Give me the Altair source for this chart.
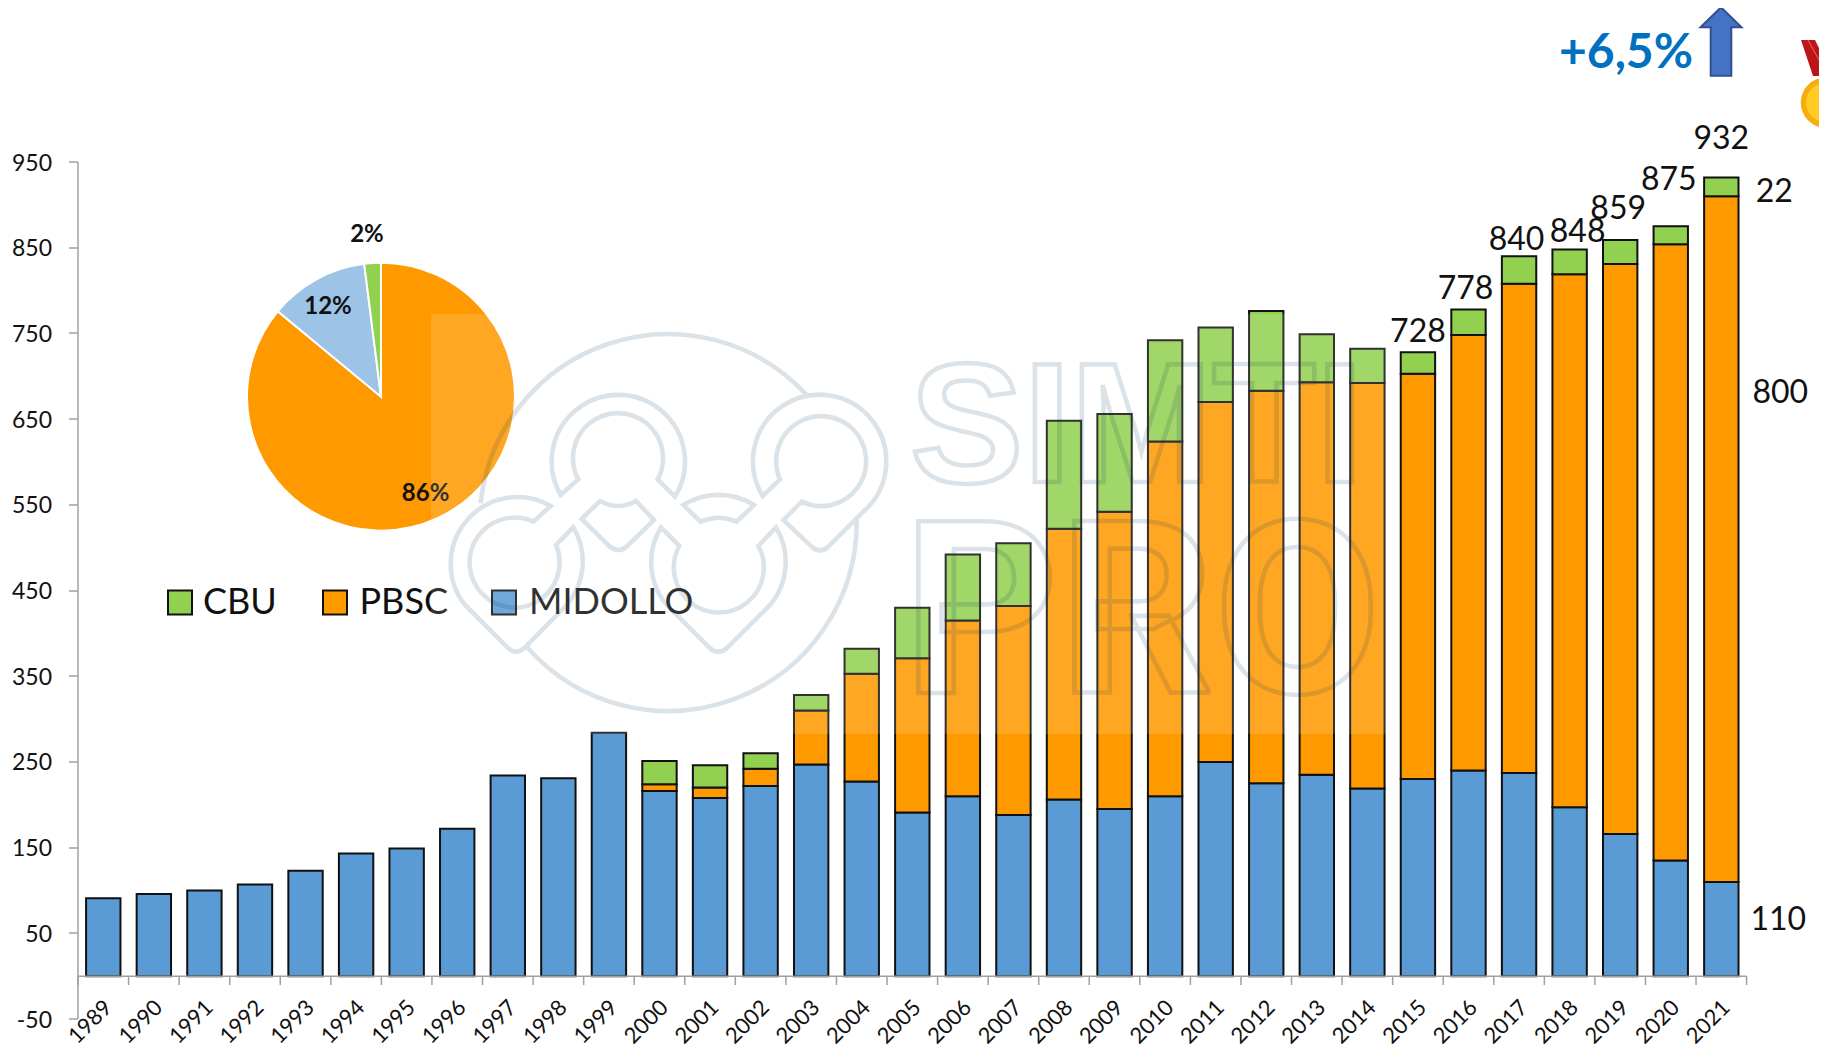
import altair as alt
import pandas as pd

YEARS = [str(y) for y in range(1989, 2022)]
MIDOLLO = [91, 96, 100, 107, 123, 143, 149, 172, 234, 231, 284, 216, 208, 222, 247, 227, 191, 210, 188, 206, 195, 210,
           250, 225, 235, 219, 230, 240, 237, 197, 166, 135, 110]
PBSC = [0] * 11 + [8, 12, 20, 63, 126, 180, 205, 244, 316, 347, 414, 420, 458, 458, 473, 473, 508, 571, 622, 665, 719, 800]
CBU = [0] * 11 + [27, 26, 18, 18, 29, 59, 77, 73, 126, 114, 118, 87, 93, 56, 40, 25, 30, 32, 29, 28, 21, 22]
SERIES = ["CBU", "PBSC", "MIDOLLO"]
SERIES_COLORS = ["#92D050", "#FF9900", "#5B9BD5"]
Y_TICKS = [-50, 50, 150, 250, 350, 450, 550, 650, 750, 850, 950]

PIE_LABELS = ["86%", "12%", "2%"]
PIE_VALUES = [86, 12, 2]
PIE_COLORS = ["#FF9900", "#9DC3E6", "#92D050"]

TOTAL_YEARS = ["2015", "2016", "2017", "2018", "2019", "2020", "2021"]
GROWTH = "+6,5%"

FONT = "Lato"
AXIS_GREY = "#a0a0a0"
X0, Y0 = 78, 162            # page position of the plot area
W, H = 1668.6, 857
ZERO_Y = 976 - Y0           # plot-relative position of the zero line, where the ticks start
GAP = W / len(YEARS) * 0.16  # half the space between two bars

rows = []
for i, year in enumerate(YEARS):
    for rank, (name, vals) in enumerate([("MIDOLLO", MIDOLLO), ("PBSC", PBSC), ("CBU", CBU)]):
        if vals[i] > 0:
            rows.append({"year": year, "series": name, "value": vals[i], "rank": rank})
bars_df = pd.DataFrame(rows)
total_of = {y: MIDOLLO[i] + PBSC[i] + CBU[i] for i, y in enumerate(YEARS)}

x_scale = alt.Scale(domain=YEARS, paddingInner=0.32, paddingOuter=0.16, round=False)
y_scale = alt.Scale(domain=[-50, 950], nice=False, zero=False)


def x_year(**kw):
    return alt.X("year:N", scale=x_scale, axis=None, **kw)


def blank():
    return alt.Chart(pd.DataFrame({"a": [0]}))


def px(x, y):
    return {"x": alt.value(x - X0), "y": alt.value(y - Y0)}


# Zero line, band-edge ticks and slanted year labels
years_df = pd.DataFrame({"year": YEARS})
band_ticks = alt.Chart(years_df).mark_rule(color=AXIS_GREY, strokeWidth=1.5, xOffset=-GAP).encode(
    x=x_year(bandPosition=0), y=alt.value(ZERO_Y), y2=alt.value(ZERO_Y + 9))
end_tick = alt.Chart(years_df.tail(1)).mark_rule(color=AXIS_GREY, strokeWidth=1.5, xOffset=GAP).encode(
    x=x_year(bandPosition=1), y=alt.value(ZERO_Y), y2=alt.value(ZERO_Y + 9))
zero_line = blank().mark_rule(color=AXIS_GREY, strokeWidth=1.5).encode(
    x=alt.value(0), x2=alt.value(W), y=alt.Y(datum=0, scale=y_scale, title=None))
year_labels = alt.Chart(years_df).mark_text(
    font=FONT, fontSize=22, color="#111111", angle=315, align="right", baseline="middle", xOffset=5).encode(
    x=x_year(), y=alt.value(1004 - Y0), text=alt.Text("year:N"))

bars = alt.Chart(bars_df).mark_bar(stroke="#111111", strokeWidth=2).encode(
    x=x_year(),
    y=alt.Y("value:Q", stack="zero", scale=y_scale, axis=alt.Axis(
        title=None, values=Y_TICKS, grid=False, tickSize=9, labelFont=FONT, labelFontSize=23, labelColor="#111111",
        labelPadding=17, labelOffset=1.5, domainColor=AXIS_GREY, tickColor=AXIS_GREY, domainWidth=1.5, tickWidth=1.5,
        labelExpr="replace(datum.label, '−', '-')")),
    color=alt.Color("series:N", scale=alt.Scale(domain=SERIES, range=SERIES_COLORS), legend=None),
    order=alt.Order("rank:Q"),
)

# Legend: swatches and names
legend_items = []
for name, col, sx, tx in zip(SERIES, SERIES_COLORS, [180, 335, 504], [203, 359.5, 529]):
    legend_items.append(blank().mark_square(size=576, fill=col, stroke="#111111", strokeWidth=2, opacity=1).encode(**px(sx, 602.5)))
    legend_items.append(blank().mark_text(text=name, font=FONT, fontSize=36, color="#111111", align="left").encode(**px(tx, 603)))

starts, ends, run = [], [], 0
for v in PIE_VALUES:
    starts.append(run)
    run += v
    ends.append(run)
pie_df = pd.DataFrame({"label": PIE_LABELS, "start": starts, "end": ends})
pie = [
    alt.Chart(pie_df.iloc[[i]]).mark_arc(radius=134, innerRadius=0, stroke="white", strokeWidth=2, fill=PIE_COLORS[i],
                                         opacity=1).encode(
        theta=alt.Theta("start:Q", scale=alt.Scale(domain=[0, 100], range=[0, 6.283185])),
        theta2="end:Q",
        **px(381, 396.7),
    )
    for i in range(3)
]
pie_text = [
    blank().mark_text(text=t, font=FONT, fontSize=24, fontWeight="bold", color="#111111").encode(**px(x, y))
    for t, (x, y) in zip(PIE_LABELS, [(425.6, 493.5), (328, 307), (367, 235)])
]

# Value labels above / beside the last bars
label_df = pd.DataFrame({
    "year": TOTAL_YEARS,
    "total": [total_of[y] for y in TOTAL_YEARS],
    "pos": [0, 1, 2, 3, 4, 5, 6],
})
OFFSETS = [(0, -20), (-3, -20), (-2.5, -16), (8, -17), (-2, -31), (-2, -46), (0, -38)]
total_labels = [
    alt.Chart(label_df[label_df.pos == i]).mark_text(font=FONT, fontSize=32, color="#111111", dx=dx, dy=dy).encode(
        x=x_year(), y=alt.Y("total:Q", scale=y_scale, title=None),
        text=alt.Text("total:Q"))
    for i, (dx, dy) in enumerate(OFFSETS)
]
last = pd.DataFrame({
    "year": ["2021"] * 3,
    "value": [CBU[-1], PBSC[-1], MIDOLLO[-1]],
    "mid": [MIDOLLO[-1] + PBSC[-1] + CBU[-1] / 2, MIDOLLO[-1] + PBSC[-1] / 2, MIDOLLO[-1] / 2],
    "pos": [0, 1, 2],
})
LAST_OFFSETS = [(53, 5), (59, -146), (57, -9)]
last_labels = [
    alt.Chart(last[last.pos == i]).mark_text(font=FONT, fontSize=32, color="#111111", dx=dx, dy=dy).encode(
        x=x_year(), y=alt.Y("mid:Q", scale=y_scale, title=None),
        text=alt.Text("value:Q"))
    for i, (dx, dy) in enumerate(LAST_OFFSETS)
]

# Watermark: translucent panel, logo outline, outlined lettering
panel = blank().mark_rect(fill="white", opacity=0.137).encode(
    x=alt.value(431 - X0), x2=alt.value(1390 - X0), y=alt.value(314 - Y0), y2=alt.value(734 - Y0))

LOGO = (
    "M152,550A565,565 0 0 1 1130,225 M1280,600A565,565 0 0 1 290,980 "
    "M392,525A200,200 0 1 1 735,530L683,478A135,135 0 1 0 445,478Z "
    "M998,528A200,200 0 1 1 1300,575L1195,680Q1170,702 1145,680L1060,600L1115,545A135,135 0 1 0 1050,478Z "
    "M362,558A200,200 0 0 0 105,855L235,985Q258,1005 282,985L410,855A200,200 0 0 0 430,622L378,675"
    "A135,135 0 1 1 310,605Z "
    "M693,622L748,678A135,135 0 1 0 985,678L1038,622A200,200 0 0 1 1000,875L890,985Q865,1005 840,985L730,875"
    "A200,200 0 0 1 693,622Z "
    "M455,597L510,543Q565,573 618,543L672,600L590,680Q565,700 540,680Z "
    "M760,555A200,200 0 0 1 972,555L920,605A135,135 0 0 0 812,605Z"
)
WM = dict(stroke="#05395d", strokeOpacity=0.14, strokeWidth=4.6)
logo = blank().mark_point(shape=LOGO, size=4 / 9, fill="transparent", fillOpacity=0, **WM).encode(**px(430, 320))
simti = blank().mark_text(text="SIMTI", font="Liberation Sans", fontWeight="bold", fontSize=170, align="left",
                          baseline="alphabetic", fill="transparent", **WM).encode(**px(910, 482))
pro = blank().mark_text(text="PRO", font="Roboto", fontWeight="bold", fontSize=242, align="left",
                        baseline="alphabetic", fill="transparent", **WM).encode(**px(903, 693))

# +6,5% and arrow
growth = blank().mark_text(text=GROWTH, font=FONT, fontSize=48, fontWeight="bold", color="#0070C0",
                           align="center", baseline="middle").encode(**px(1626, 54))
ARROW = "M0,-34.2L20.5,-14.2L10.3,-14.2L10.3,34.2L-10.3,34.2L-10.3,-14.2L-20.5,-14.2Z"
arrow = blank().mark_point(shape=ARROW, size=4, filled=True, fill="#4472C4", stroke="#2F528F", strokeWidth=2,
                           opacity=1).encode(**px(1721, 41.5))

# Medal
STRAP = "M34,0L48,0L60,24L60,36L46,36Z"
STRIPE = "M41,0L58,31"
strap = blank().mark_point(shape=STRAP, size=4, filled=True, fill="#C0141C", opacity=1).encode(**px(1767, 40))
stripe = blank().mark_point(shape=STRIPE, size=4, stroke="#F4A04A", strokeWidth=1, fill="transparent").encode(**px(1767, 40))
medal_outer = blank().mark_circle(size=2552, color="#F7AC10", opacity=1).encode(**px(1826, 102.7))
medal_inner = blank().mark_circle(size=1590, color="#FFCB24", opacity=1).encode(**px(1826, 102.7))
medal_star = blank().mark_point(shape="star", size=900, filled=True, fill="#F2950E", opacity=1).encode(**px(1826, 103))
sparkle = blank().mark_point(shape="diamond", size=40, filled=True, fill="white", opacity=1).encode(**px(1807, 89))

chart = alt.layer(
    *pie, *pie_text, bars, zero_line, band_ticks, end_tick, year_labels, *legend_items, panel, logo, simti, pro,
    *total_labels, *last_labels, growth, arrow, strap, stripe, medal_outer, medal_inner, medal_star, sparkle,
).properties(
    width=W, height=H,
    autosize=alt.AutoSizeParams(type="none"),
    padding={"left": X0 - 8, "top": Y0 - 8, "right": 1811 - (X0 - 8) - W, "bottom": 1042 - (Y0 - 8) - H},
    background="white",
).configure_view(stroke=None)

chart.save("out.html", embed_options={"renderer": "svg", "actions": False})
